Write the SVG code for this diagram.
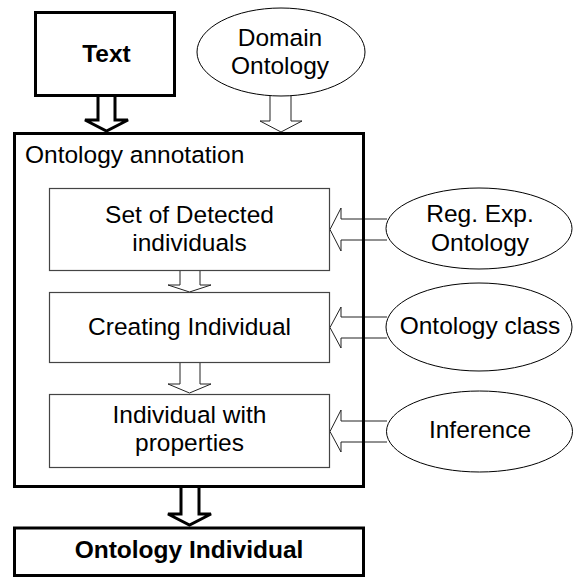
<svg xmlns="http://www.w3.org/2000/svg" width="573" height="579" viewBox="0 0 573 579">
<style>
text{font-family:"Liberation Sans",Arial,sans-serif;font-size:24.5px;fill:#000;text-anchor:middle}
.b{font-weight:bold}
.thick{fill:none;stroke:#000;stroke-width:3}
.inner{fill:none;stroke:#444;stroke-width:1.2}
.ell{fill:#fff;stroke:#000;stroke-width:1}
.arr{fill:#fff;stroke:#222;stroke-width:1;stroke-linejoin:miter}
.tarr{fill:#fff;stroke:#000;stroke-width:3;stroke-linejoin:miter}
</style>
<rect width="573" height="579" fill="#fff"/>
<g id="connectors">
  <polyline class="tarr" points="98,96 98,120 85,120 106.5,131 128,120 115,120 115,96"/>
  <polyline class="arr" points="270,96 270,121 260,121 281,132 302,121 291,121 291,96"/>
  <polyline class="arr" points="180,271 180,285 168,285 189.5,292 211,285 200,285 200,271"/>
  <polyline class="arr" points="180,363 180,384 168,384 189.5,393 211,384 200,384 200,363"/>
  <polyline class="tarr" points="181,488 181,514 168,514 189.5,525 211,514 199,514 199,488"/>
  <polyline class="arr" points="387,219 341,219 341,208 330,229.5 341,251 341,240 387,240"/>
  <polyline class="arr" points="387,317 341,317 341,307 330,327.5 341,348 341,338 387,338"/>
  <polyline class="arr" points="387,421 341,421 341,410 330,431.5 341,452 341,442 387,442"/>
</g>
<g id="text-node">
  <rect class="thick" x="35.5" y="12.5" width="139" height="83"/>
  <text class="b" x="106.5" y="62">Text</text>
</g>
<g id="domain-ontology">
  <ellipse class="ell" cx="281" cy="52" rx="84" ry="44"/>
  <text x="280" y="46">Domain</text>
  <text x="280" y="74">Ontology</text>
</g>
<g id="ontology-annotation">
  <rect class="thick" x="14.5" y="133.5" width="349" height="353"/>
  <text x="25" y="163" style="text-anchor:start">Ontology annotation</text>
</g>
<g id="set-detected">
  <rect class="inner" x="49.5" y="188.5" width="280" height="82"/>
  <text x="189.5" y="223">Set of Detected</text>
  <text x="189.5" y="251">individuals</text>
</g>
<g id="creating-individual">
  <rect class="inner" x="49.5" y="292.5" width="280" height="70"/>
  <text x="189.5" y="335">Creating Individual</text>
</g>
<g id="individual-properties">
  <rect class="inner" x="49.5" y="394.5" width="280" height="73"/>
  <text x="189.5" y="423">Individual with</text>
  <text x="189.5" y="451">properties</text>
</g>
<g id="ontology-individual">
  <rect class="thick" x="14.5" y="528" width="349" height="47.5"/>
  <text class="b" x="189" y="558">Ontology Individual</text>
</g>
<g id="regexp-ontology">
  <ellipse class="ell" cx="479" cy="228.5" rx="93" ry="40.5"/>
  <text x="480" y="222">Reg. Exp.</text>
  <text x="480" y="251">Ontology</text>
</g>
<g id="ontology-class">
  <ellipse class="ell" cx="479" cy="327" rx="93" ry="44"/>
  <text x="480" y="334">Ontology class</text>
</g>
<g id="inference">
  <ellipse class="ell" cx="479.5" cy="431.5" rx="93" ry="40.5"/>
  <text x="480" y="438">Inference</text>
</g>
</svg>
